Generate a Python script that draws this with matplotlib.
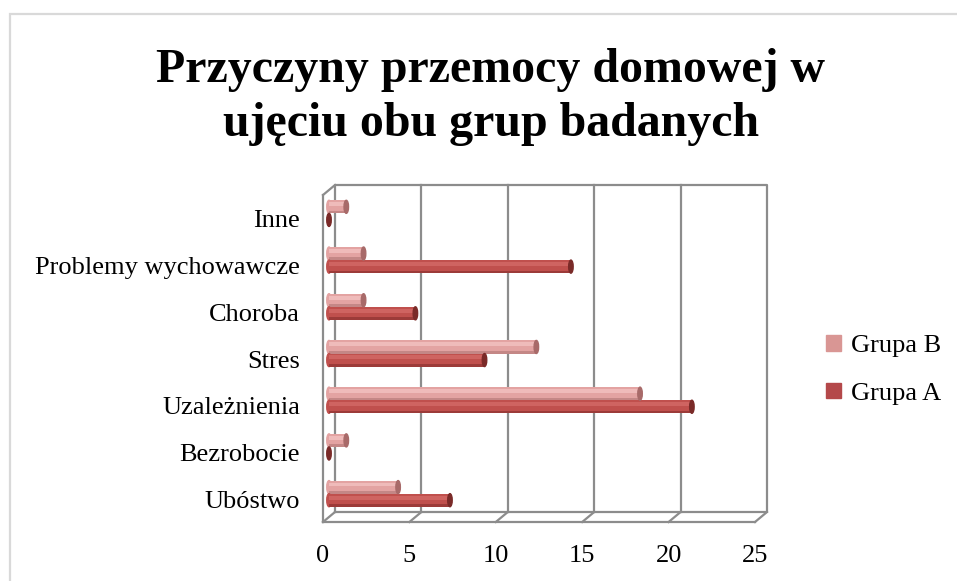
import matplotlib.pyplot as plt
from matplotlib.patches import Ellipse, Rectangle, Patch

categories = ['Ubóstwo', 'Bezrobocie', 'Uzależnienia', 'Stres', 'Choroba',
              'Problemy wychowawcze', 'Inne']
grupa_a = [7, 0, 21, 9, 5, 14, 0]
grupa_b = [4, 1, 18, 12, 2, 2, 1]
x_ticks = [0, 5, 10, 15, 20, 25]

plt.rcParams['font.family'] = ['Liberation Serif', 'DejaVu Serif']

W, H = 957, 581
fig = plt.figure(figsize=(W / 100, H / 100), dpi=100)
ax_pos = [335 / W, 1 - 512 / H, 432 / W, 327 / H]
ax = fig.add_axes(ax_pos)
ax.set_xlim(0, 25)
ax.set_ylim(-0.5, len(categories) - 0.5)
ax.axis('off')

# pixel -> data unit conversion for the fake 3D depth
px_x = ax_pos[2] * W / 25
px_y = ax_pos[3] * H / len(categories)
dx = -12 / px_x
dy = -10 / px_y

frame = '#8c8c8c'
lw = 1.6
top = len(categories) - 0.5
bot = -0.5

# back wall + gridlines
ax.plot([0, 0, 25, 25, 0], [bot, top, top, bot, bot], color=frame, lw=lw, clip_on=False)
for t in x_ticks[1:-1]:
    ax.plot([t, t], [bot, top], color=frame, lw=lw, clip_on=False)
# floor / front edges
ax.plot([dx, 25 + dx], [bot + dy, bot + dy], color=frame, lw=lw, clip_on=False)
for t in x_ticks:
    ax.plot([t, t + dx], [bot, bot + dy], color=frame, lw=lw, clip_on=False)
ax.plot([dx, dx], [bot + dy, top + dy], color=frame, lw=lw, clip_on=False)
ax.plot([0, dx], [top, top + dy], color=frame, lw=lw, clip_on=False)

# cylinder bars
h = 0.28
cap_w = 4.5 / px_x
styles = {
    'A': dict(base='#c0504d', light='#cf6461', dark='#9c3b39', cap='#7a2a28'),
    'B': dict(base='#e3a3a2', light='#efbbba', dark='#c48786', cap='#a86a69'),
}


def cylinder(y, v, s):
    x0 = dx / 2
    if v > 0:
        ax.add_patch(Ellipse((x0, y), cap_w, h, color=s['base'], clip_on=False, zorder=3))
        ax.barh(y, v, left=x0, height=h, color=s['base'], zorder=3, clip_on=False)
        ax.barh(y + h * 0.2, v, left=x0, height=h * 0.3, color=s['light'], zorder=3, clip_on=False)
        ax.barh(y - h * 0.4, v, left=x0, height=h * 0.2, color=s['dark'], zorder=3, clip_on=False)
    ax.add_patch(Ellipse((x0 + v, y), cap_w, h, color=s['cap'], clip_on=False, zorder=4))


for i, (a, b) in enumerate(zip(grupa_a, grupa_b)):
    yc = i + dy / 2
    cylinder(yc + 0.14, b, styles['B'])
    cylinder(yc - 0.14, a, styles['A'])

# category labels (front plane)
for i, c in enumerate(categories):
    ax.text(dx - 23 / px_x, i + dy - 3 / px_y, c, ha='right', va='center', fontsize=19)

# value axis labels
for t in x_ticks:
    ax.text(t + dx, bot + dy - 34 / px_y, str(t), ha='center', va='center', fontsize=19)

fig.text(0.513, 1 - 97 / H, 'Przyczyny przemocy domowej w\nujęciu obu grup badanych',
         ha='center', va='center', fontsize=34.5, fontweight='bold', linespacing=1.3)

handles = [Patch(color='#d99694', label='Grupa B'), Patch(color='#b4484a', label='Grupa A')]
fig.legend(handles=handles, loc='center left', bbox_to_anchor=(826 / W, 1 - 370 / H),
           frameon=False, fontsize=19, handlelength=0.55, handleheight=0.55,
           handletextpad=0.4, labelspacing=0.95, borderpad=0, borderaxespad=0)

fig.patches.append(Rectangle((10 / W, -0.1), 2, 1 - 14 / H + 0.1, transform=fig.transFigure,
                             fill=False, ec='#d9d9d9', lw=1.6))

fig.savefig('out.png', dpi=100)
